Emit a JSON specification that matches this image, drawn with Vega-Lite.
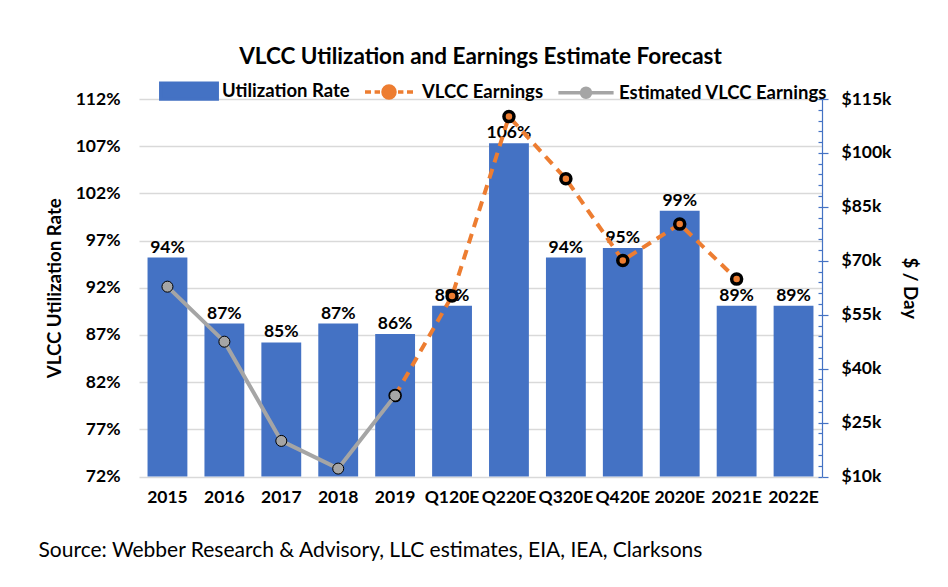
{
  "$schema": "https://vega.github.io/schema/vega-lite/v6.json",
  "width": 683,
  "height": 377.5,
  "autosize": {"type": "none"},
  "padding": {"left": 139, "top": 99, "right": 126, "bottom": 110.5},
  "background": "white",
  "title": {
    "text": "VLCC Utilization and Earnings Estimate Forecast",
    "font": "Lato",
    "fontSize": 22.5,
    "fontWeight": "bold",
    "color": "black",
    "anchor": "middle",
    "frame": "group",
    "offset": 32,
    "dy": 41
  },
  "data": {
    "values": [
      {"cat": "2015", "util": 0.952, "label": "94%", "est": 62800, "earn": null},
      {"cat": "2016", "util": 0.882, "label": "87%", "est": 47500, "earn": null},
      {"cat": "2017", "util": 0.862, "label": "85%", "est": 19900, "earn": null},
      {"cat": "2018", "util": 0.882, "label": "87%", "est": 12200, "earn": null},
      {"cat": "2019", "util": 0.871, "label": "86%", "est": 32500, "earn": 32500},
      {"cat": "Q120E", "util": 0.901, "label": "89%", "est": null, "earn": 60200},
      {"cat": "Q220E", "util": 1.073, "label": "106%", "est": null, "earn": 110100},
      {"cat": "Q320E", "util": 0.952, "label": "94%", "est": null, "earn": 92800},
      {"cat": "Q420E", "util": 0.962, "label": "95%", "est": null, "earn": 70100},
      {"cat": "2020E", "util": 1.0015, "label": "99%", "est": null, "earn": 80200},
      {"cat": "2021E", "util": 0.901, "label": "89%", "est": null, "earn": 64900},
      {"cat": "2022E", "util": 0.901, "label": "89%", "est": null, "earn": null}
    ]
  },
  "encoding": {
    "x": {
      "field": "cat",
      "type": "nominal",
      "sort": null,
      "scale": {"paddingInner": 0.3, "paddingOuter": 0.15},
      "axis": {
        "title": "Source:  Webber Research & Advisory, LLC estimates, EIA, IEA, Clarksons",
        "titleFontWeight": "normal",
        "titleFontSize": 21,
        "titleAnchor": "start",
        "titleAlign": "left",
        "titleBaseline": "alphabetic",
        "titleX": -101,
        "titleY": 79.5,
        "labelAngle": 0,
        "labelPadding": 12,
        "ticks": false,
        "domain": false,
        "grid": false
      }
    }
  },
  "layer": [
    {
      "layer": [
        {
          "mark": {"type": "bar", "clip": false},
          "encoding": {
            "y": {
              "field": "util",
              "type": "quantitative",
              "scale": {"domain": [0.72, 1.12], "zero": false, "nice": false},
              "axis": {
                "orient": "left",
                "title": "VLCC Utilization Rate",
                "titleFontSize": 18.7,
                "values": [0.72, 0.77, 0.82, 0.87, 0.92, 0.97, 1.02, 1.07, 1.12],
                "format": ".0%",
                "ticks": false,
                "domain": false,
                "grid": true,
                "gridColor": "#d9d9d9",
                "gridWidth": 1.5,
                "labelPadding": 19,
                "titlePadding": 11
              }
            },
            "y2": {"datum": 0.72},
            "color": {
              "datum": "Utilization Rate",
              "type": "nominal",
              "scale": {
                "domain": ["Utilization Rate", "VLCC Earnings", "Estimated VLCC Earnings"],
                "range": ["#4472c4", "#ed7d31", "#a5a5a5"]
              },
              "legend": {
                "orient": "none",
                "legendX": 18,
                "legendY": -40,
                "direction": "horizontal",
                "title": null,
                "padding": 0,
                "labelFont": "Lato",
                "labelFontSize": 18.5,
                "labelFontWeight": "bold",
                "labelColor": "black",
                "labelLimit": 400,
                "labelOffset": 1,
                "columnPadding": 7,
                "symbolSize": 3600,
                "symbolStrokeWidth": 3.5,
                "encode": {
                  "symbols": {
                    "update": {
                      "size": {"value": 3600},
                      "shape": {"signal": "datum.value === 'Utilization Rate' ? 'M-0.94,-0.26H0.94V0.26H-0.94Z' : (datum.value === 'VLCC Earnings' ? 'M-0.8,0H-0.6M-0.48,0H-0.3M0.3,0H0.48M0.6,0H0.8M0.2,0A0.2,0.2 0 1,1 -0.2,0A0.2,0.2 0 1,1 0.2,0' : 'M-0.92,0H0.92M0.15,0A0.15,0.15 0 1,1 -0.15,0A0.15,0.15 0 1,1 0.15,0')"},
                      "fill": {"signal": "datum.value === 'Utilization Rate' ? '#4472c4' : (datum.value === 'VLCC Earnings' ? '#ed7d31' : '#a5a5a5')"},
                      "stroke": {"signal": "datum.value === 'Utilization Rate' ? '#4472c4' : (datum.value === 'VLCC Earnings' ? '#ed7d31' : '#a5a5a5')"},
                      "strokeWidth": {"value": 3.5},
                      "opacity": {"value": 1}
                    }
                  }
                }
              }
            }
          }
        },
        {
          "mark": {"type": "text", "font": "Lato", "fontSize": 17.5, "fontWeight": "bold", "color": "black", "baseline": "alphabetic", "dy": -5},
          "encoding": {
            "y": {"field": "util", "type": "quantitative"},
            "text": {"field": "label"}
          }
        }
      ]
    },
    {
      "layer": [
        {
          "mark": {"type": "line", "color": "#ed7d31", "strokeWidth": 4, "strokeDash": [10, 7]},
          "encoding": {
            "y": {
              "field": "earn",
              "type": "quantitative",
              "scale": {"domain": [10000, 115000], "nice": false, "zero": false},
              "axis": {
                "orient": "right",
                "title": "$ / Day",
                "titleFontSize": 18.7,
                "values": [10000, 25000, 40000, 55000, 70000, 85000, 100000, 115000],
                "labelExpr": "'$' + (datum.value / 1000) + 'k'",
                "grid": false,
                "domainColor": "#4472c4",
                "domainWidth": 1.2,
                "tickColor": "#4472c4",
                "tickWidth": 1.2,
                "tickSize": 6,
                "labelPadding": 13,
                "titlePadding": 9
              }
            }
          }
        },
        {
          "mark": {"type": "point", "filled": true, "fill": "#ed7d31", "stroke": "black", "strokeWidth": 3.5, "size": 100, "opacity": 1},
          "encoding": {
            "y": {"field": "earn", "type": "quantitative", "axis": null}
          }
        },
        {
          "mark": {"type": "line", "color": "#a5a5a5", "strokeWidth": 4},
          "encoding": {
            "y": {
              "field": "est",
              "type": "quantitative",
              "axis": {
                "orient": "right",
                "title": null,
                "values": [10000, 13000, 16000, 19000, 22000, 25000, 28000, 31000, 34000, 37000, 40000, 43000, 46000, 49000, 52000, 55000, 58000, 61000, 64000, 67000, 70000, 73000, 76000, 79000, 82000, 85000, 88000, 91000, 94000, 97000, 100000, 103000, 106000, 109000, 112000, 115000],
                "labels": false,
                "domain": false,
                "grid": false,
                "tickColor": "#4472c4",
                "tickWidth": 1.2,
                "tickSize": -4
              }
            }
          }
        },
        {
          "mark": {"type": "point", "filled": true, "fill": "#a5a5a5", "stroke": "black", "strokeWidth": 1, "size": 121, "opacity": 1},
          "encoding": {
            "y": {"field": "est", "type": "quantitative", "axis": null}
          }
        }
      ],
      "resolve": {"scale": {"y": "shared"}, "axis": {"y": "independent"}}
    }
  ],
  "resolve": {"scale": {"y": "independent"}},
  "config": {
    "font": "Lato",
    "view": {"stroke": null},
    "axis": {
      "labelFont": "Lato",
      "labelFontSize": 17.5,
      "labelFontWeight": "bold",
      "labelColor": "black",
      "titleFont": "Lato",
      "titleFontSize": 18.7,
      "titleFontWeight": "bold",
      "titleColor": "black"
    }
  }
}
